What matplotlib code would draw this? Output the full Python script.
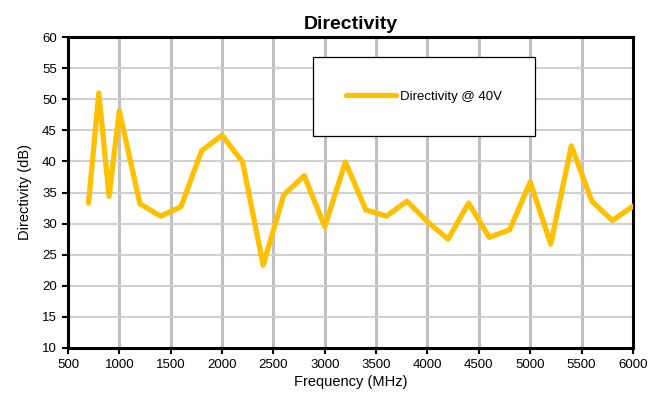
import matplotlib
matplotlib.use('Agg')
import matplotlib.pyplot as plt
from matplotlib.patches import Rectangle

plt.rcParams['font.family'] = ['Liberation Sans', 'DejaVu Sans']

# Frequency points (MHz) and directivity (dB)
freq = [700, 800, 900, 1000, 1200, 1400, 1600, 1800, 2000, 2200, 2400, 2600,
        2800, 3000, 3200, 3400, 3600, 3800, 4000, 4200, 4400, 4600, 4800,
        5000, 5200, 5400, 5600, 5800, 6000]
directivity = [33.3, 51.0, 34.4, 48.1, 33.2, 31.2, 32.7, 41.7, 44.2, 39.9,
               23.3, 34.6, 37.7, 29.5, 39.9, 32.2, 31.2, 33.6, 30.3, 27.5,
               33.3, 27.8, 29.0, 36.7, 26.7, 42.5, 33.6, 30.5, 32.8]
series_name = 'Directivity @ 40V'

fig = plt.figure(figsize=(6.6, 4.0), dpi=100)
ax = fig.add_axes([0.103, 0.13, 0.856, 0.7775])

# grid
for x in range(1000, 6000, 500):
    ax.axvline(x, color='#c0c0c0', lw=2.2, zorder=0)
for y in range(15, 60, 5):
    ax.axhline(y, color='#d0d0d0', lw=1.5, zorder=0)

ax.plot(freq, directivity, color='#FFC000', lw=3.8, solid_joinstyle='round',
        solid_capstyle='round', label=series_name, zorder=3)

ax.set_xlim(500, 6000)
ax.set_ylim(10, 60)
ax.set_xticks(range(500, 6001, 500))
ax.set_yticks(range(10, 61, 5))
ax.tick_params(direction='out', length=4, width=1.5, labelsize=9.5, colors='black', pad=4)
for s in ax.spines.values():
    s.set_linewidth(2.2)
    s.set_color('black')

ax.set_title('Directivity', fontsize=14, fontweight='bold', pad=6)
ax.set_xlabel('Frequency (MHz)', fontsize=10.5, labelpad=3)
ax.set_ylabel('Directivity (dB)', fontsize=10.5, labelpad=7)

# legend box
ax.add_patch(Rectangle((0.434, 0.682), 0.393, 0.254, transform=ax.transAxes,
                       facecolor='white', edgecolor='black', lw=0.9, zorder=4))
leg = ax.legend(loc='center', bbox_to_anchor=(0.63, 0.809), frameon=False,
                fontsize=9.5, handlelength=3.8, handletextpad=0.3)
leg.set_zorder(5)

fig.savefig('out.png', dpi=100)
